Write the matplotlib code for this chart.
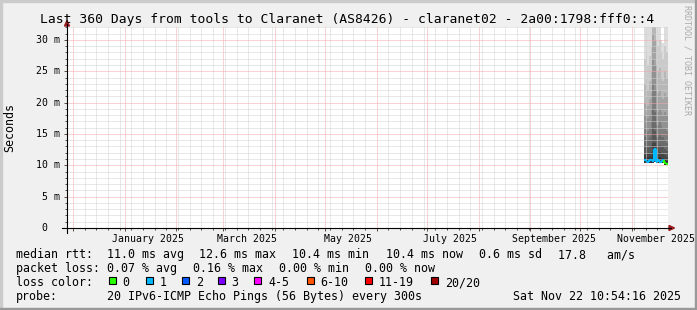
import matplotlib
matplotlib.use('Agg')
import matplotlib.pyplot as plt
import matplotlib.dates as mdates
from matplotlib.ticker import MultipleLocator
from matplotlib.patches import Rectangle, Polygon
from matplotlib.lines import Line2D
from matplotlib.transforms import blended_transform_factory
from datetime import datetime, timedelta

W, H = 697, 310

title = 'Last 360 Days from tools to Claranet (AS8426) - claranet02 - 2a00:1798:fff0::4'
t_end = datetime(2025, 11, 22, 10, 54, 16)
t_start = t_end - timedelta(days=360)

# one bin per day, data only exists for the last two weeks
bin_start = [datetime(2025, 11, d) for d in range(8, 22)]
median = [10.8, 10.7, 10.6, 10.9, 10.8, 10.7, 12.6, 10.6, 10.8, 10.6, 10.5, 10.8, 10.4, 10.2]
loss = [1, 1, 1, 1, 1, 1, 1, 1, 1, 1, 1, 1, 0, 0]
smoke_bottom = [10.4, 10.4, 10.3, 10.4, 10.4, 10.4, 10.5, 10.3, 10.4, 10.3, 10.3, 10.4, 10.1, 10.0]
# upper edge of each smoke layer (outermost -> innermost), per bin
smoke_top = [
    [33, 27, 23, 20, 18, 16, 14.5, 13, 12, 11.3],
    [33, 28, 24, 21, 18.5, 16.5, 14.5, 13, 12, 11.3],
    [33, 26, 22, 19.5, 17.5, 15.5, 14, 12.8, 11.8, 11.2],
    [33, 27.5, 23.5, 20.5, 18, 16, 14.5, 13, 12, 11.3],
    [33, 29, 25, 21.5, 19, 17, 15, 13.3, 12.2, 11.4],
    [33, 33, 33, 31, 27, 23, 19, 16, 13.5, 12],
    [33, 33, 32, 30, 26, 22, 18.5, 15.5, 13.5, 12.6],
    [33, 30, 26, 22, 19, 16.5, 14.5, 13, 12, 11.3],
    [33, 29, 25, 21.5, 18.5, 16.5, 14.5, 13, 12, 11.2],
    [33, 30, 25.5, 22, 19, 17, 15, 13.3, 12.1, 11.3],
    [30, 28, 24, 21, 18.5, 16.5, 14.5, 13, 12, 11.2],
    [29.5, 27, 23.5, 20.5, 18, 16, 14.5, 13, 11.8, 11.1],
    [33, 29, 25, 21.5, 18.5, 16, 14, 12.6, 11.6, 10.9],
    [33, 28, 24, 21, 18, 15.5, 13.5, 12.3, 11.3, 10.7],
]

ytick_values = [0, 5, 10, 15, 20, 25, 30]
ytick_labels = [' 0', ' 5 m', '10 m', '15 m', '20 m', '25 m', '30 m']
xtick_dates = [datetime(2025, m, 15) for m in (1, 3, 5, 7, 9, 11)]
xtick_labels = ['January 2025', 'March 2025', 'May 2025', 'July 2025',
                'September 2025', 'November 2025']

rtt_items = ['11.0 ms avg', '12.6 ms max', '10.4 ms min', '10.4 ms now', '0.6 ms sd', '17.8   am/s']
pl_items = ['0.07 % avg', '0.16 % max', '0.00 % min', '0.00 % now']
loss_labels = ['0', '1', '2', '3', '4-5', '6-10', '11-19', '20/20']
loss_colors = ['#26ff00', '#00b8ff', '#0059ff', '#7e00ff', '#ff00ff', '#ff5500', '#ff0000', '#a10000']
probe_text = '20 IPv6-ICMP Echo Pings (56 Bytes) every 300s'

plt.rcParams['font.family'] = 'DejaVu Sans Mono'

def fx(x):
    return x / W

def fy(y):
    return 1 - y / H

fig = plt.figure(figsize=(W / 100, H / 100), dpi=100, facecolor='#f0f0f0')
ax = fig.add_axes([fx(67), fy(228), 601 / W, 201 / H])
ax.set_facecolor('white')

# smoke layers
edges = mdates.date2num(bin_start + [t_end])
greys = ['#dddddd', '#cacaca', '#b7b7b7', '#a4a4a4', '#919191',
         '#7e7e7e', '#6b6b6b', '#585858', '#454545', '#323232']
for k in range(10):
    tops = [row[k] for row in smoke_top]
    ax.stairs(tops, edges, baseline=smoke_bottom, fill=True, color=greys[k], lw=0, zorder=1)

# median line coloured by loss
for i in range(len(median)):
    c = loss_colors[loss[i]]
    ax.hlines(median[i], edges[i], edges[i + 1], color=c, lw=1.6, zorder=3)
    if i > 0:
        ax.vlines(edges[i], median[i - 1], median[i], color=c, lw=1.6, zorder=3)

ax.set_xlim(mdates.date2num(t_start), mdates.date2num(t_end))
ax.set_ylim(0, 32.06)

ax.xaxis.set_major_locator(mdates.MonthLocator())
ax.xaxis.set_minor_locator(mdates.WeekdayLocator(byweekday=mdates.SU))
ax.yaxis.set_major_locator(MultipleLocator(5))
ax.yaxis.set_minor_locator(MultipleLocator(1))
ax.grid(which='minor', color='#d2d2d2', ls=(0, (1, 1)), lw=0.72, zorder=2.5)
ax.grid(which='major', color='#f5a8a8', ls=(0, (1, 1)), lw=0.72, zorder=2.6)
ax.tick_params(which='both', direction='out', colors='#505050', width=0.7,
               labelbottom=False, labelleft=False, top=False, right=False)
ax.tick_params(which='major', length=2.2)
ax.tick_params(which='minor', length=1.4)
for s in ax.spines.values():
    s.set_visible(False)

# axis lines and arrows
fig.add_artist(Line2D([fx(62), fx(671)], [fy(228), fy(228)], color='black', lw=0.8, transform=fig.transFigure))
fig.add_artist(Line2D([fx(67), fx(67)], [fy(233), fy(24)], color='black', lw=0.8, transform=fig.transFigure))
fig.add_artist(Polygon([(fx(669), fy(225.5)), (fx(674.5), fy(228)), (fx(669), fy(230.5))],
                       closed=True, color='#9b1b1b', transform=fig.transFigure))
fig.add_artist(Polygon([(fx(64.5), fy(26)), (fx(67), fy(20.5)), (fx(69.5), fy(26))],
                       closed=True, color='#9b1b1b', transform=fig.transFigure))

# tick labels
ytr = blended_transform_factory(fig.transFigure, ax.transData)
for v, lab in zip(ytick_values, ytick_labels):
    fig.text(fx(36), v, lab, transform=ytr, ha='left', va='center', fontsize=7.1, color='black')
xtr = blended_transform_factory(ax.transData, fig.transFigure)
for d, lab in zip(xtick_dates, xtick_labels):
    fig.text(mdates.date2num(d), fy(241.5), lab, transform=xtr, ha='center', va='baseline',
             fontsize=7.1, color='black')

fig.text(fx(347), fy(23.5), title, ha='center', va='baseline', fontsize=9.4, color='black')
fig.text(fx(10), fy(127.5), 'Seconds', rotation=90, ha='center', va='center', fontsize=8.4)
fig.text(fx(687), fy(60), 'RRDTOOL / TOBI OETIKER', rotation=-90, ha='center', va='center',
         fontsize=6.0, color='#aaaaaa')

# legend
lf = 8.4
rows_y = [258, 272, 286, 300]
fig.text(fx(16), fy(rows_y[0]), 'median rtt:', fontsize=lf, va='baseline')
for x, t in zip([107.3, 199.3, 292.3, 386, 479.3, 558.3], rtt_items):
    fig.text(fx(x), fy(rows_y[0]), t, fontsize=lf, va='baseline')
fig.text(fx(16), fy(rows_y[1]), 'packet loss:', fontsize=lf, va='baseline')
for x, t in zip([107.3, 193.3, 279.3, 365], pl_items):
    fig.text(fx(x), fy(rows_y[1]), t, fontsize=lf, va='baseline')
fig.text(fx(16), fy(rows_y[2]), 'loss color:', fontsize=lf, va='baseline')
for x, t, c in zip([108.7, 145.7, 181.7, 217.7, 254, 306.7, 365, 431], loss_labels, loss_colors):
    fig.add_artist(Rectangle((fx(x), fy(284)), 7 / W, 7 / H, facecolor=c, edgecolor='black',
                             lw=0.8, transform=fig.transFigure))
    fig.text(fx(x + 14), fy(rows_y[2]), t, fontsize=lf, va='baseline')
fig.text(fx(16), fy(rows_y[3]), 'probe:', fontsize=lf, va='baseline')
fig.text(fx(107.3), fy(rows_y[3]), probe_text, fontsize=lf, va='baseline')
fig.text(fx(513.3), fy(rows_y[3]), t_end.strftime('%a %b %d %H:%M:%S %Y'), fontsize=lf, va='baseline')

# 3d border
fig.add_artist(Rectangle((0, 1 - 2 / H), 1, 2 / H, color='#cbcbcb', transform=fig.transFigure))
fig.add_artist(Rectangle((0, 0), 2 / W, 1, color='#cbcbcb', transform=fig.transFigure))
fig.add_artist(Rectangle((0, 0), 1, 2 / H, color='#999999', transform=fig.transFigure))
fig.add_artist(Rectangle((1 - 2 / W, 0), 2 / W, 1, color='#999999', transform=fig.transFigure))

fig.savefig('out.png', dpi=100, facecolor=fig.get_facecolor())
